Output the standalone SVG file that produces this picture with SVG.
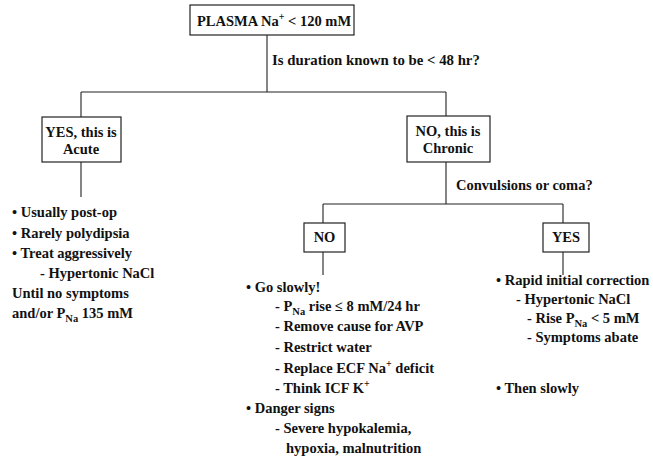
<svg xmlns="http://www.w3.org/2000/svg" width="653" height="463" viewBox="0 0 653 463">
<style>
text{font-family:'Liberation Serif','Times New Roman','DejaVu Serif',serif;font-weight:700;font-size:14.5px;fill:#111}
.c{text-anchor:middle}
.box{fill:#fff;stroke:#222;stroke-width:1.2}
.ln{stroke:#222;stroke-width:1.1;fill:none}
.sub{font-size:10.5px}
.sup{font-size:10px}
</style>
<rect width="653" height="463" fill="#fff"/>
<g id="connectors">
<path class="ln" d="M267 35V92M81 92H446M81 92V117M81 162V197M446 92V116M446 162V204M323 204H563M323 204V223M323 252V275M563 204V223M563 252V275"/>
</g>
<g id="plasma">
<rect class="box" x="190" y="5" width="164" height="30"/>
<text x="197" y="26" style="font-size:14.5px">PLASMA Na<tspan class="sup" dy="-6">+</tspan><tspan dy="6"> &lt; 120 mM</tspan></text>
</g>
<text x="272" y="65" style="font-size:14.8px">Is duration known to be &lt; 48 hr?</text>
<g id="acute">
<rect class="box" x="42" y="117" width="79" height="45"/>
<text class="c" x="81" y="137">YES, this is</text>
<text class="c" x="81" y="154">Acute</text>
</g>
<g id="chronic">
<rect class="box" x="407" y="116" width="83" height="46"/>
<text class="c" x="448" y="136">NO, this is</text>
<text class="c" x="448" y="153">Chronic</text>
</g>
<text x="456" y="190">Convulsions or coma?</text>
<g id="no">
<rect class="box" x="304" y="223" width="41" height="29"/>
<text class="c" x="324.5" y="242">NO</text>
</g>
<g id="yes">
<rect class="box" x="543" y="223" width="46" height="29"/>
<text class="c" x="566" y="242">YES</text>
</g>
<g id="acute-notes">
<text x="12" y="217">• Usually post-op</text>
<text x="12" y="238">• Rarely polydipsia</text>
<text x="12" y="258">• Treat aggressively</text>
<text x="40" y="278">- Hypertonic NaCl</text>
<text x="12" y="298">Until no symptoms</text>
<text x="12" y="318">and/or P<tspan class="sub" dy="4">Na</tspan><tspan dy="-4"> 135 mM</tspan></text>
</g>
<g id="no-notes">
<text x="246" y="292">• Go slowly!</text>
<text x="275" y="311">- P<tspan class="sub" dy="4">Na</tspan><tspan dy="-4"> rise ≤ 8 mM/24 hr</tspan></text>
<text x="275" y="331">- Remove cause for AVP</text>
<text x="275" y="352">- Restrict water</text>
<text x="275" y="373">- Replace ECF Na<tspan class="sup" dy="-6">+</tspan><tspan dy="6"> deficit</tspan></text>
<text x="275" y="393">- Think ICF K<tspan class="sup" dy="-6">+</tspan></text>
<text x="246" y="413">• Danger signs</text>
<text x="275" y="433">- Severe hypokalemia,</text>
<text x="286" y="453">hypoxia, malnutrition</text>
</g>
<g id="yes-notes">
<text x="496" y="285">• Rapid initial correction</text>
<text x="516" y="304">- Hypertonic NaCl</text>
<text x="527" y="323">- Rise P<tspan class="sub" dy="4">Na</tspan><tspan dy="-4"> &lt; 5 mM</tspan></text>
<text x="527" y="342">- Symptoms abate</text>
<text x="496" y="393">• Then slowly</text>
</g>
</svg>
